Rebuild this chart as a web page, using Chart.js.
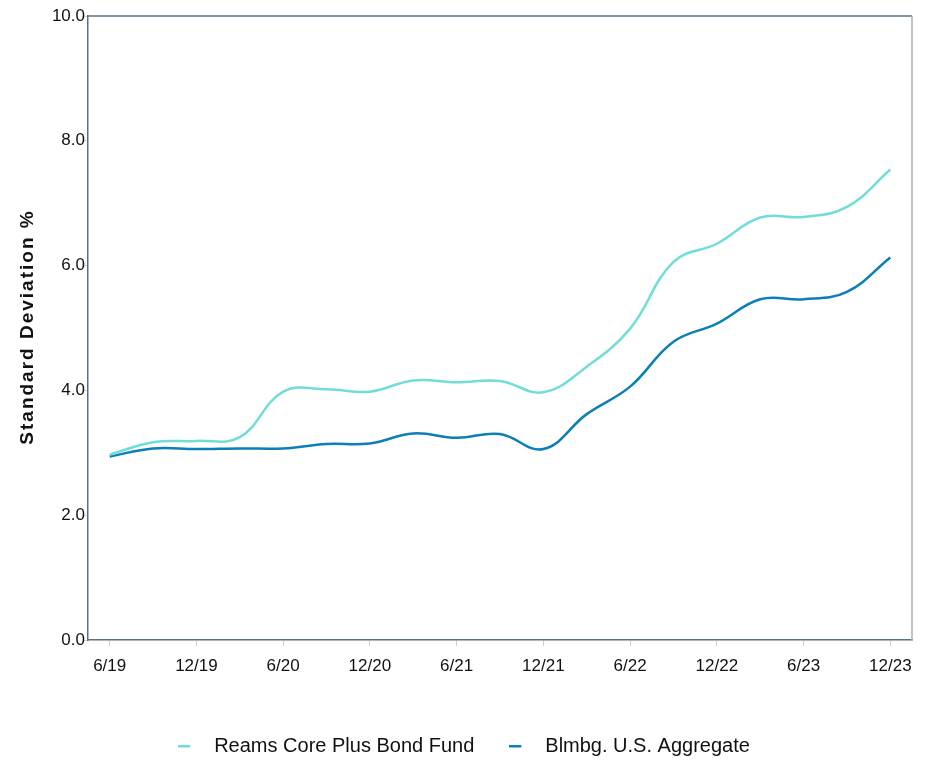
<!DOCTYPE html>
<html>
<head>
<meta charset="utf-8">
<script src="https://cdn.jsdelivr.net/npm/chart.js@4.4.1/dist/chart.umd.min.js"></script>
<style>
  html, body { margin: 0; padding: 0; background: #fff; }
  #wrap { width: 928px; height: 762px; }
</style>
</head>
<body>
<div id="wrap"><canvas id="c" width="928" height="762"></canvas></div>
<script>
const categories = ['6/19','9/19','12/19','3/20','6/20','9/20','12/20','3/21','6/21','9/21','12/21','3/22','6/22','9/22','12/22','3/23','6/23','9/23','12/23'];
const reamsValues = [2.97, 3.17, 3.19, 3.25, 3.98, 4.02, 3.98, 4.16, 4.13, 4.15, 3.97, 4.38, 4.99, 6.06, 6.35, 6.77, 6.78, 6.94, 7.54];
const aggValues   = [2.94, 3.07, 3.06, 3.07, 3.07, 3.14, 3.15, 3.31, 3.24, 3.30, 3.06, 3.62, 4.06, 4.78, 5.07, 5.46, 5.46, 5.58, 6.13];
const seriesNames = ['Reams Core Plus Bond Fund', 'Blmbg. U.S. Aggregate'];
const yTicks = [0, 2, 4, 6, 8, 10];
const yTitle = 'Standard Deviation %';

const TEAL = '#70ded6';
const BLUE = '#0b7fb8';
const FONT = "'Liberation Sans', Arial, sans-serif";

function legendMark(color) {
  const cv = document.createElement('canvas');
  cv.width = 26; cv.height = 6;
  const g = cv.getContext('2d');
  g.fillStyle = color;
  g.fillRect(0, 2, 12, 2.5);
  return cv;
}

const framePlugin = {
  id: 'frame',
  afterDraw(chart) {
    const {ctx, chartArea: a} = chart;
    ctx.save();
    ctx.lineWidth = 1.5;
    ctx.strokeStyle = '#5b7083';
    ctx.beginPath();
    ctx.moveTo(a.left, a.top); ctx.lineTo(a.right, a.top);
    ctx.stroke();
    ctx.strokeStyle = '#a9b2bb';
    ctx.beginPath();
    ctx.moveTo(a.right, a.top); ctx.lineTo(a.right, a.bottom);
    ctx.stroke();
    // y axis title
    ctx.translate(28, (a.top + a.bottom) / 2 - 1);
    ctx.rotate(-Math.PI / 2);
    ctx.font = "bold 19px 'Liberation Sans', Arial, sans-serif";
    try { ctx.letterSpacing = '2px'; } catch (e) {}
    ctx.fillStyle = '#111';
    ctx.textAlign = 'center';
    ctx.textBaseline = 'middle';
    ctx.fillText(yTitle, 0, 0);
    ctx.restore();
  }
};

new Chart(document.getElementById('c'), {
  type: 'line',
  data: {
    labels: categories,
    datasets: [
      { label: seriesNames[0], data: reamsValues, borderColor: TEAL, backgroundColor: TEAL, borderWidth: 2.5, tension: 0.4, pointRadius: 0, pointStyle: legendMark(TEAL) },
      { label: seriesNames[1], data: aggValues, borderColor: BLUE, backgroundColor: BLUE, borderWidth: 2.5, tension: 0.4, pointRadius: 0, pointStyle: legendMark(BLUE) }
    ]
  },
  options: {
    responsive: false,
    animation: false,
    devicePixelRatio: 1,
    layout: { padding: { top: 16, right: 16, left: 16, bottom: -4 } },
    plugins: {
      tooltip: { enabled: false },
      legend: {
        position: 'bottom',
        labels: {
          usePointStyle: true,
          pointStyleWidth: 26,
          color: '#111',
          font: { family: FONT, size: 20 },
          padding: 35,
          boxHeight: 6
        }
      }
    },
    scales: {
      x: {
        type: 'category',
        offset: true,
        grid: {
          display: true,
          drawOnChartArea: false,
          drawTicks: true,
          tickLength: 6,
          offset: false,
          color: (c) => (c.index % 2 === 0 ? '#cfcfcf' : 'rgba(0,0,0,0)')
        },
        border: { display: true, color: '#5b7083', width: 1.5 },
        ticks: {
          autoSkip: false,
          maxRotation: 0,
          color: '#111',
          font: { family: FONT, size: 17 },
          padding: 10,
          callback: function(v, i) { return i % 2 === 0 ? categories[i] : ''; }
        },
        afterFit(scale) { scale.height = 61; }
      },
      y: {
        min: 0, max: 10,
        afterBuildTicks(scale) { scale.ticks = yTicks.map(v => ({ value: v })); },
        grid: { display: true, drawOnChartArea: false, drawTicks: true, tickLength: 4, color: '#d6d6d6' },
        border: { display: true, color: '#5b7083', width: 1.5 },
        ticks: {
          color: '#111',
          font: { family: FONT, size: 17 },
          padding: -1,
          callback: (v) => Number(v).toFixed(1)
        },
        afterFit(scale) { scale.width = 72; }
      }
    }
  },
  plugins: [framePlugin]
});
</script>
</body>
</html>
